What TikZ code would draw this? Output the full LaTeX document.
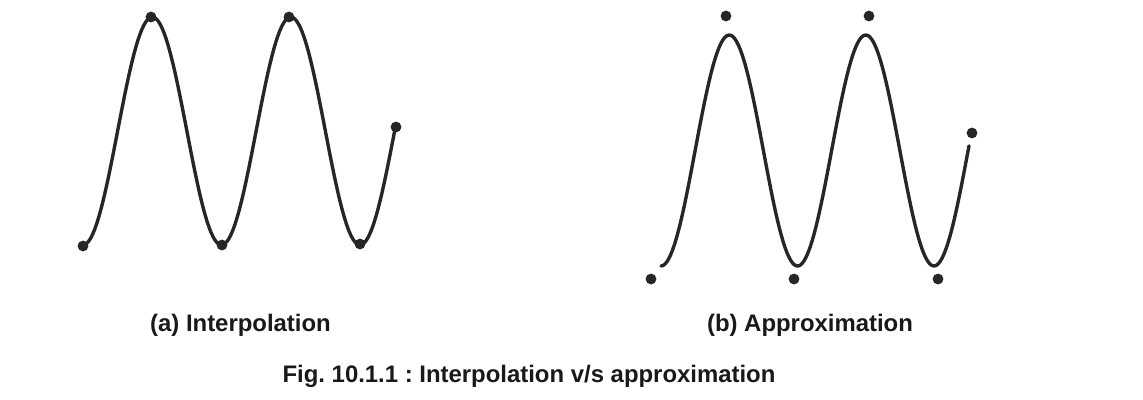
\documentclass[tikz,border=0pt]{standalone}
\usepackage{fontspec}
\setmainfont{Liberation Sans}
\usepackage{tikz}
\frenchspacing

\begin{document}
\begin{tikzpicture}[
  x=0.025cm, y=-0.025cm,
  curve/.style={line width=2.4pt, black!85, line cap=round},
  dot/.style={circle, fill=black!85, inner sep=0pt, minimum size=0.27cm},
  lbl/.style={font=\fontsize{17}{20}\selectfont\bfseries, inner sep=0pt, anchor=base, text=black!90},
]
  \useasboundingbox (0,0) rectangle (1143,400);

  % (a) curve passes through every point
  \draw[curve] plot[domain=83:396, samples=160] (\x, {131+114*cos((\x-83)*2.59928)});
  \node[dot] (a1) at (83,246) {};
  \node[dot] (a2) at (151,17) {};
  \node[dot] (a3) at (222,245) {};
  \node[dot] (a4) at (289,17) {};
  \node[dot] (a5) at (360,244) {};
  \node[dot] (a6) at (396,127) {};

  % (b) curve only follows the points
  \draw[curve] plot[domain=661:969, samples=160] (\x, {150.5+115.5*cos((\x-661)*2.63736)});
  \node[dot] (b1) at (651,279) {};
  \node[dot] (b2) at (726,16) {};
  \node[dot] (b3) at (794,279) {};
  \node[dot] (b4) at (869,16) {};
  \node[dot] (b5) at (938,279) {};
  \node[dot] (b6) at (972,133) {};

  \node[lbl] (capa) at (240.5,331) {(a) Interpolation};
  \node[lbl] (capb) at (810,331) {(b) Approximation};
  \node[lbl] (fig) at (529,382) {Fig. 10.1.1 : Interpolation v/s approximation};
\end{tikzpicture}
\end{document}
